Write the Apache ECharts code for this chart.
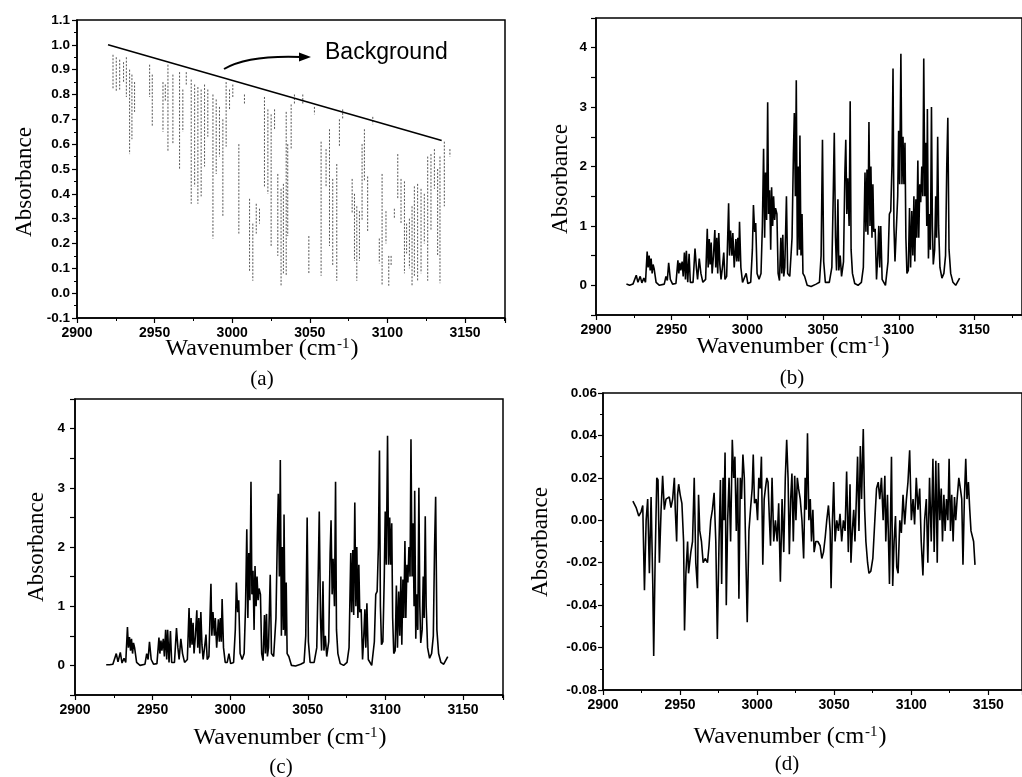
<!DOCTYPE html>
<html><head><meta charset="utf-8">
<script src="https://cdn.jsdelivr.net/npm/echarts@6/dist/echarts.min.js"></script>
<style>html,body{margin:0;padding:0;background:#fff}#c{width:1022px;height:777px}</style>
</head><body><div id="c"></div>
<script>
// ---- data ----
var xTicks = [2900, 2950, 3000, 3050, 3100, 3150];
// (a) background line of the raw spectrum
var aBackground = [[2920, 1.0], [3135, 0.615]];
// (a) absorption dips: [wavenumber, top, bottom]
var aDips = [
[2923.2,0.96,0.82],[2925.3,0.95,0.81],[2927.5,0.94,0.82],[2930.0,0.93,0.85],[2931.8,0.95,0.79],
[2933.9,0.90,0.56],[2935.4,0.88,0.62],[2937.1,0.85,0.73],[2946.8,0.92,0.79],[2948.5,0.88,0.67],
[2955.4,0.85,0.65],[2956.9,0.84,0.77],[2958.6,0.92,0.57],[2961.8,0.88,0.60],[2966.1,0.89,0.50],
[2968.2,0.82,0.65],[2970.4,0.89,0.84],[2973.6,0.86,0.36],[2975.8,0.84,0.43],[2977.9,0.83,0.36],
[2980.0,0.82,0.39],[2982.2,0.84,0.51],[2984.3,0.82,0.63],[2987.6,0.80,0.22],[2989.7,0.78,0.48],
[2991.8,0.75,0.55],[2994.0,0.70,0.31],[2996.1,0.85,0.59],[2998.3,0.82,0.74],[3000.4,0.84,0.79],
[3004.3,0.60,0.24],[3007.9,0.80,0.76],[3011.2,0.38,0.09],[3013.3,0.28,0.05],[3015.5,0.36,0.24],
[3017.6,0.34,0.28],[3020.8,0.79,0.43],[3023.0,0.74,0.40],[3025.1,0.72,0.19],[3027.3,0.74,0.66],
[3029.4,0.48,0.15],[3031.5,0.42,0.03],[3033.0,0.44,0.08],[3034.8,0.73,0.07],[3035.8,0.60,0.23],
[3038.0,0.76,0.58],[3040.1,0.80,0.76],[3045.5,0.80,0.76],[3049.4,0.23,0.08],[3053.0,0.75,0.72],
[3057.3,0.61,0.07],[3060.5,0.58,0.43],[3062.7,0.66,0.19],[3064.8,0.46,0.11],[3067.4,0.52,0.05],
[3069.1,0.70,0.59],[3071.2,0.74,0.70],[3077.3,0.46,0.32],[3078.8,0.40,0.13],[3080.3,0.35,0.05],
[3082.0,0.33,0.13],[3083.7,0.60,0.29],[3085.2,0.66,0.45],[3087.3,0.47,0.25],[3090.6,0.71,0.68],
[3094.8,0.22,0.12],[3096.6,0.48,0.03],[3099.1,0.33,0.20],[3100.9,0.15,0.03],[3102.4,0.15,0.11],
[3104.5,0.34,0.30],[3106.7,0.56,0.38],[3108.8,0.46,0.28],[3111.0,0.45,0.08],[3112.4,0.28,0.16],
[3114.2,0.30,0.10],[3115.9,0.35,0.03],[3117.4,0.43,0.07],[3119.5,0.44,0.05],[3121.7,0.42,0.08],
[3123.8,0.40,0.20],[3126.0,0.55,0.05],[3128.1,0.56,0.25],[3130.3,0.58,0.42],[3132.4,0.50,0.15],
[3133.9,0.55,0.04],[3136.7,0.61,0.35],[3140.3,0.58,0.55]
];
// (b) measured absorbance spectrum
var bSpectrum = [
[2920.1,0.02],[2922.2,0.0],[2924.4,0.02],[2926.6,0.17],[2927.7,0.05],[2929.2,0.15],[2930.3,0.04],[2931.6,0.12],[2932.7,0.05],[2933.8,0.57],[2934.4,0.3],[2935.1,0.5],[2935.8,0.25],[2936.4,0.45],[2937.1,0.2],[2937.7,0.35],[2938.4,0.28],[2939.7,0.05],[2941.9,0.0],[2945.1,0.02],[2946.2,0.15],[2947.1,0.08],[2948.0,0.38],[2949.1,0.1],[2950.6,0.02],[2952.8,0.03],[2954.1,0.42],[2954.7,0.2],[2955.4,0.38],[2956.0,0.25],[2956.9,0.4],[2957.6,0.15],[2958.4,0.55],[2959.1,0.1],[2959.7,0.58],[2960.6,0.05],[2961.5,0.53],[2962.3,0.05],[2964.1,0.05],[2965.4,0.62],[2966.3,0.3],[2967.1,0.1],[2968.2,0.45],[2969.3,0.2],[2970.6,0.05],[2972.4,0.1],[2973.5,0.95],[2974.1,0.3],[2974.8,0.78],[2975.4,0.35],[2976.1,0.72],[2976.7,0.2],[2977.6,0.5],[2978.5,0.93],[2979.1,0.3],[2979.8,0.8],[2980.4,0.2],[2981.1,0.88],[2981.8,0.35],[2982.6,0.1],[2983.5,0.3],[2984.4,0.55],[2985.2,0.1],[2986.3,0.15],[2987.6,1.38],[2988.2,0.5],[2988.9,0.92],[2989.8,0.5],[2990.4,0.88],[2991.3,0.3],[2992.4,0.78],[2993.0,0.4],[2993.7,0.8],[2994.3,0.4],[2994.8,1.07],[2995.7,0.3],[2996.8,0.05],[2998.1,0.05],[2999.2,0.2],[3000.3,0.03],[3002.2,0.05],[3003.3,0.6],[3004.0,1.35],[3004.8,0.9],[3005.5,1.05],[3006.4,0.2],[3007.7,0.1],[3009.0,0.2],[3009.9,1.0],[3010.7,2.3],[3011.4,0.8],[3012.0,1.9],[3012.7,1.1],[3013.4,3.08],[3014.0,1.2],[3014.7,1.6],[3015.4,0.6],[3016.0,1.65],[3016.7,1.0],[3017.3,1.5],[3018.0,1.1],[3018.6,1.3],[3019.5,1.2],[3020.3,0.2],[3021.2,0.08],[3022.1,0.8],[3022.7,0.2],[3023.4,0.85],[3024.0,0.15],[3024.7,0.3],[3025.8,1.5],[3026.6,0.2],[3028.0,0.15],[3029.5,0.8],[3030.4,2.2],[3031.0,2.9],[3031.7,1.5],[3032.3,3.45],[3033.0,0.5],[3033.6,2.0],[3034.3,0.6],[3034.7,2.52],[3035.4,0.5],[3036.1,1.2],[3036.7,0.2],[3037.8,0.15],[3039.5,0.0],[3042.1,-0.02],[3045.4,0.02],[3047.6,0.05],[3048.7,0.5],[3049.6,2.45],[3050.4,0.4],[3051.5,0.05],[3054.1,0.05],[3055.8,0.3],[3056.7,1.5],[3057.4,2.57],[3058.2,0.8],[3058.9,0.25],[3059.8,1.45],[3060.4,0.25],[3061.3,0.5],[3062.2,0.15],[3063.5,0.4],[3064.4,1.9],[3065.0,2.45],[3065.7,1.2],[3066.3,1.8],[3067.2,1.0],[3067.9,3.1],[3068.5,0.6],[3069.4,0.2],[3070.9,0.03],[3073.1,0.0],[3075.3,0.05],[3076.6,0.3],[3077.7,1.9],[3078.3,0.9],[3079.0,1.95],[3079.6,0.85],[3080.3,2.75],[3081.0,1.0],[3081.6,2.0],[3082.3,0.8],[3082.9,1.7],[3083.5,0.9],[3084.4,0.95],[3085.3,0.1],[3086.1,0.5],[3086.8,1.0],[3087.4,0.3],[3088.1,1.0],[3089.0,0.1],[3091.2,0.0],[3092.9,0.4],[3093.8,1.2],[3094.7,1.25],[3095.5,2.0],[3096.2,3.65],[3096.8,1.0],[3097.5,0.4],[3098.4,0.4],[3099.3,1.5],[3099.9,2.6],[3100.6,1.7],[3101.4,3.9],[3102.1,1.7],[3102.8,2.5],[3103.4,1.7],[3104.1,2.4],[3104.7,0.8],[3105.4,0.2],[3106.3,0.25],[3107.1,1.3],[3107.8,0.3],[3108.6,1.25],[3109.3,0.5],[3110.0,1.5],[3110.6,0.4],[3111.3,1.45],[3111.9,0.8],[3112.6,2.1],[3113.2,0.8],[3113.9,1.7],[3114.5,1.4],[3115.2,2.0],[3115.9,1.5],[3116.5,3.82],[3117.2,1.5],[3117.8,2.4],[3118.5,1.0],[3118.9,2.97],[3119.6,0.45],[3120.2,1.2],[3120.9,0.6],[3121.6,3.0],[3122.2,1.0],[3122.8,0.35],[3123.7,0.6],[3124.4,1.5],[3125.0,0.8],[3125.7,2.5],[3126.3,1.0],[3127.2,0.3],[3128.5,0.12],[3129.8,0.2],[3130.9,0.5],[3131.7,2.0],[3132.4,2.82],[3133.2,0.6],[3134.3,0.2],[3135.8,0.05],[3137.6,0.0],[3140.2,0.12]
];
// (c) calculated absorbance spectrum
var cSpectrum = [
[2920.1,0.01],[2922.2,0.01],[2924.4,0.02],[2926.6,0.2],[2927.7,0.06],[2929.2,0.22],[2930.3,0.04],[2931.6,0.12],[2932.7,0.05],[2933.8,0.65],[2934.4,0.3],[2935.1,0.48],[2935.8,0.25],[2936.4,0.45],[2937.1,0.2],[2937.7,0.38],[2938.4,0.3],[2939.7,0.05],[2941.9,0.0],[2945.1,0.02],[2946.2,0.2],[2947.1,0.1],[2948.0,0.4],[2949.1,0.1],[2950.6,0.02],[2952.8,0.03],[2954.1,0.47],[2954.7,0.2],[2955.4,0.42],[2956.0,0.25],[2956.9,0.45],[2957.6,0.15],[2958.4,0.6],[2959.1,0.1],[2959.7,0.6],[2960.6,0.05],[2961.5,0.58],[2962.3,0.05],[2964.1,0.05],[2965.4,0.63],[2966.3,0.3],[2967.1,0.1],[2968.2,0.45],[2969.3,0.2],[2970.6,0.05],[2972.4,0.1],[2973.5,0.97],[2974.1,0.3],[2974.8,0.8],[2975.4,0.35],[2976.1,0.72],[2976.7,0.2],[2977.6,0.5],[2978.5,0.93],[2979.1,0.3],[2979.8,0.8],[2980.4,0.2],[2981.1,0.9],[2981.8,0.35],[2982.6,0.1],[2983.5,0.3],[2984.4,0.52],[2985.2,0.1],[2986.3,0.15],[2987.6,1.38],[2988.2,0.5],[2988.9,0.9],[2989.8,0.5],[2990.4,0.8],[2991.3,0.3],[2992.4,0.78],[2993.0,0.4],[2993.7,0.8],[2994.3,0.4],[2994.8,1.12],[2995.7,0.3],[2996.8,0.05],[2998.1,0.05],[2999.2,0.2],[3000.3,0.03],[3002.2,0.05],[3003.3,0.6],[3004.0,1.4],[3004.8,0.9],[3005.5,1.1],[3006.4,0.2],[3007.7,0.1],[3009.0,0.2],[3009.9,1.0],[3010.7,2.3],[3011.4,0.8],[3012.0,1.9],[3012.7,1.1],[3013.4,3.1],[3014.0,1.2],[3014.7,1.6],[3015.4,0.6],[3016.0,1.68],[3016.7,1.0],[3017.3,1.5],[3018.0,1.1],[3018.6,1.3],[3019.5,1.2],[3020.3,0.2],[3021.2,0.08],[3022.1,0.85],[3022.7,0.2],[3023.4,0.87],[3024.0,0.15],[3024.7,0.3],[3025.8,1.53],[3026.6,0.2],[3028.0,0.15],[3029.5,0.8],[3030.4,2.2],[3031.0,2.9],[3031.7,1.5],[3032.3,3.47],[3033.0,0.5],[3033.6,2.0],[3034.3,0.6],[3034.7,2.55],[3035.4,0.5],[3036.1,1.4],[3036.7,0.2],[3037.8,0.15],[3039.5,0.0],[3042.1,-0.01],[3045.4,0.02],[3047.6,0.05],[3048.7,0.5],[3049.6,2.5],[3050.4,0.4],[3051.5,0.05],[3054.1,0.05],[3055.8,0.3],[3056.7,1.5],[3057.4,2.6],[3058.2,0.8],[3058.9,0.25],[3059.8,1.42],[3060.4,0.25],[3061.3,0.5],[3062.2,0.15],[3063.5,0.4],[3064.4,1.9],[3065.0,2.45],[3065.7,1.2],[3066.3,1.8],[3067.2,1.0],[3067.9,3.1],[3068.5,0.6],[3069.4,0.2],[3070.9,0.03],[3073.1,0.0],[3075.3,0.05],[3076.6,0.3],[3077.7,1.9],[3078.3,0.9],[3079.0,1.95],[3079.6,0.85],[3080.3,2.75],[3081.0,1.0],[3081.6,2.0],[3082.3,0.8],[3082.9,1.7],[3083.5,0.9],[3084.4,0.95],[3085.3,0.1],[3086.1,0.5],[3086.8,0.95],[3087.4,0.3],[3088.1,1.05],[3089.0,0.1],[3091.2,0.0],[3092.9,0.4],[3093.8,1.2],[3094.7,1.25],[3095.5,2.0],[3096.2,3.63],[3096.8,1.0],[3097.5,0.35],[3098.4,0.4],[3099.3,1.5],[3099.9,2.6],[3100.6,1.7],[3101.4,3.88],[3102.1,1.7],[3102.8,2.5],[3103.4,1.7],[3104.1,2.4],[3104.7,0.8],[3105.4,0.2],[3106.3,0.25],[3107.1,1.35],[3107.8,0.3],[3108.6,1.25],[3109.3,0.5],[3110.0,1.5],[3110.6,0.35],[3111.3,1.45],[3111.9,0.8],[3112.6,2.1],[3113.2,0.8],[3113.9,1.7],[3114.5,1.4],[3115.2,2.0],[3115.9,1.5],[3116.5,3.82],[3117.2,1.5],[3117.8,2.4],[3118.5,1.0],[3118.9,2.95],[3119.6,0.45],[3120.2,1.2],[3120.9,0.6],[3121.6,3.0],[3122.2,1.0],[3122.8,0.38],[3123.7,0.6],[3124.4,1.5],[3125.0,0.8],[3125.7,2.52],[3126.3,1.0],[3127.2,0.3],[3128.5,0.12],[3129.8,0.2],[3130.9,0.5],[3131.7,2.0],[3132.4,2.85],[3133.2,0.6],[3134.3,0.2],[3135.8,0.05],[3137.6,0.02],[3140.2,0.15]
];
// (d) residual spectrum
var dResidual = [
[2919.4,0.009],[2921.5,0.006],[2923.2,0.002],[2924.7,0.004],[2925.8,0.007],[2926.9,-0.033],[2928.0,0.0],[2929.0,0.01],[2930.1,-0.025],[2931.2,0.011],[2932.3,-0.03],[2932.9,-0.064],[2933.8,-0.02],[2934.9,0.02],[2935.7,0.019],[2936.6,-0.02],[2937.7,0.005],[2938.7,0.021],[2939.8,0.005],[2940.9,0.01],[2942.0,0.01],[2943.0,0.011],[2944.1,0.006],[2945.2,0.01],[2946.3,0.02],[2946.9,0.005],[2947.8,-0.01],[2948.4,0.012],[2949.1,0.017],[2950.1,0.012],[2951.2,0.008],[2952.3,-0.01],[2952.9,-0.052],[2953.8,-0.025],[2954.9,-0.01],[2955.5,-0.025],[2957.0,-0.015],[2958.1,-0.01],[2959.2,0.02],[2960.2,-0.02],[2961.3,-0.032],[2962.0,0.012],[2962.8,-0.005],[2963.9,-0.01],[2965.0,-0.02],[2966.3,-0.018],[2967.8,-0.02],[2968.8,-0.012],[2969.9,0.0],[2971.0,0.005],[2972.1,0.013],[2973.2,-0.01],[2974.2,-0.056],[2975.3,-0.01],[2976.2,0.019],[2977.0,-0.03],[2977.9,0.02],[2978.5,0.0],[2979.2,0.032],[2980.0,-0.04],[2980.9,0.0],[2981.8,0.02],[2982.8,-0.01],[2983.9,0.038],[2984.8,0.02],[2985.6,0.03],[2986.5,-0.005],[2987.4,0.02],[2988.2,-0.037],[2989.1,0.02],[2989.9,0.01],[2990.8,0.031],[2991.7,0.02],[2992.5,-0.01],[2993.6,-0.048],[2994.7,-0.005],[2995.7,0.005],[2996.8,0.015],[2997.5,0.031],[2998.3,0.008],[2999.4,0.01],[3000.3,0.0],[3001.1,0.02],[3002.0,0.015],[3002.8,0.03],[3003.7,-0.021],[3004.6,0.01],[3005.4,0.015],[3006.3,0.02],[3007.1,0.018],[3008.0,0.0],[3008.7,-0.012],[3009.7,0.02],[3010.8,-0.01],[3011.9,0.0],[3013.0,-0.01],[3014.0,0.008],[3015.1,-0.029],[3016.2,0.01],[3017.3,-0.015],[3018.3,0.02],[3019.2,0.038],[3020.1,0.02],[3020.9,-0.016],[3021.8,0.01],[3022.6,0.022],[3023.5,-0.01],[3024.4,0.021],[3025.2,0.0],[3026.1,0.02],[3026.9,0.015],[3028.0,0.01],[3029.1,0.0],[3030.2,-0.018],[3031.2,0.02],[3031.9,0.005],[3032.7,0.041],[3033.6,0.0],[3034.5,0.01],[3035.3,-0.01],[3036.2,0.005],[3037.0,-0.015],[3038.1,-0.01],[3039.4,-0.01],[3040.9,-0.012],[3042.0,-0.018],[3043.1,-0.015],[3044.2,-0.008],[3045.2,0.0],[3046.3,0.007],[3047.4,-0.005],[3048.0,-0.032],[3048.9,0.0],[3049.7,0.018],[3050.6,-0.01],[3051.7,0.0],[3052.8,-0.005],[3053.8,0.003],[3054.9,-0.01],[3056.0,0.0],[3057.1,-0.005],[3058.1,0.023],[3059.2,-0.015],[3060.3,0.017],[3060.9,-0.02],[3061.8,-0.005],[3062.7,0.005],[3063.5,-0.01],[3064.4,0.01],[3065.2,0.03],[3066.1,-0.005],[3067.0,0.035],[3067.8,0.01],[3068.9,0.043],[3069.8,0.005],[3070.6,-0.01],[3071.7,-0.02],[3072.6,-0.025],[3073.8,-0.024],[3075.1,-0.018],[3076.4,0.0],[3077.5,0.015],[3078.6,0.018],[3079.6,0.01],[3080.7,0.02],[3081.8,0.0],[3082.9,0.021],[3083.5,-0.01],[3084.6,0.012],[3085.9,-0.03],[3087.2,0.03],[3088.0,-0.031],[3088.9,-0.01],[3089.8,0.002],[3090.6,-0.022],[3091.5,-0.025],[3092.6,0.0],[3093.6,-0.006],[3094.7,0.012],[3095.8,-0.002],[3096.9,0.01],[3097.9,0.018],[3099.0,0.033],[3100.1,0.0],[3101.2,0.01],[3102.2,-0.002],[3103.3,0.02],[3104.4,0.005],[3105.5,0.015],[3106.5,-0.01],[3107.6,-0.026],[3108.7,0.0],[3109.8,0.01],[3110.8,-0.02],[3111.9,0.02],[3113.0,-0.01],[3114.1,0.029],[3114.9,-0.015],[3116.0,0.028],[3116.9,-0.02],[3117.7,0.027],[3118.6,0.0],[3119.5,0.015],[3120.3,-0.01],[3121.2,0.012],[3122.0,-0.005],[3122.9,0.01],[3123.8,0.0],[3124.6,0.029],[3125.5,-0.005],[3126.3,0.012],[3127.2,-0.01],[3128.1,0.011],[3128.9,0.0],[3129.8,0.01],[3130.9,0.02],[3131.9,0.015],[3132.8,0.01],[3133.6,-0.021],[3134.5,0.01],[3135.4,0.029],[3136.2,0.01],[3137.1,0.018],[3138.0,0.005],[3138.8,-0.005],[3140.5,-0.01],[3141.4,-0.021]
];

// ---- chart ----
var chart = echarts.init(document.getElementById('c'), null, {renderer: 'canvas'});
var SANS = 'Liberation Sans', SERIF = 'Liberation Serif';

var grids = [
  {left: 77, top: 20, width: 428, height: 298},
  {left: 596, top: 18, width: 430, height: 297},
  {left: 75, top: 399, width: 428, height: 296},
  {left: 603, top: 393, width: 422, height: 297}
];
var xMax = [3175.8, 3181.4, 3175.8, 3171.9];
function intFmt(v) { return Math.abs(v - Math.round(v)) < 1e-6 ? String(Math.round(v)) : ''; }
var yCfg = [
  {min: -0.1, max: 1.1, interval: 0.1, minor: 2, fmt: function (v) { var s = v.toFixed(1); return s === '-0.0' ? '0.0' : s; }, margin: 7},
  {min: -0.5, max: 4.5, interval: 0.5, minor: 0, fmt: intFmt, margin: 9},
  {min: -0.5, max: 4.5, interval: 0.5, minor: 0, fmt: intFmt, margin: 10},
  {min: -0.08, max: 0.06, interval: 0.02, minor: 2, fmt: function (v) { var s = v.toFixed(2); return s === '-0.00' ? '0.00' : s; }, margin: 6}
];

var xAxes = [], yAxes = [];
for (var i = 0; i < 4; i++) {
  xAxes.push({
    gridIndex: i, type: 'value', min: 2900, max: xMax[i], interval: 50,
    axisLine: {show: true, onZero: false, lineStyle: {color: '#000', width: 1.5}},
    axisTick: {show: true, length: 5, lineStyle: {color: '#000', width: 1.2}},
    minorTick: {show: true, splitNumber: 2, length: 3, lineStyle: {color: '#000', width: 1}},
    splitLine: {show: false},
    axisLabel: {color: '#000', fontFamily: SANS, fontWeight: 'bold', fontSize: 14, margin: 8,
      showMaxLabel: false, showMinLabel: true,
      formatter: function (v) { var r = Math.round(v); return (xTicks.indexOf(r) >= 0 && Math.abs(v - r) < 1e-6) ? String(r) : ''; }}
  });
  var y = yCfg[i];
  yAxes.push({
    gridIndex: i, type: 'value', min: y.min, max: y.max, interval: y.interval,
    axisLine: {show: true, onZero: false, lineStyle: {color: '#000', width: 1.5}},
    axisTick: {show: true, length: 5, lineStyle: {color: '#000', width: 1.2}},
    minorTick: {show: y.minor > 0, splitNumber: y.minor || 2, length: 3, lineStyle: {color: '#000', width: 1}},
    splitLine: {show: false},
    axisLabel: {color: '#000', fontFamily: SANS, fontWeight: 'bold', fontSize: 13.5, margin: y.margin,
      showMinLabel: true, showMaxLabel: true, formatter: y.fmt}
  });
}

// build dip segments for (a)
var aDipData = [];
aDips.forEach(function (d) {
  aDipData.push([d[0], d[1]]);
  aDipData.push([d[0], d[2]]);
  aDipData.push([d[0], '-']);
});

function lineSeries(xi, data, style) {
  return {type: 'line', xAxisIndex: xi, yAxisIndex: xi, data: data, showSymbol: false, symbol: 'none',
    connectNulls: false, animation: false, silent: true, lineStyle: style};
}
var series = [
  lineSeries(0, aDipData, {color: '#555', width: 1, type: [2, 1.5]}),
  lineSeries(0, aBackground, {color: '#000', width: 1.6}),
  lineSeries(1, bSpectrum, {color: '#000', width: 1.6}),
  lineSeries(2, cSpectrum, {color: '#000', width: 1.6}),
  lineSeries(3, dResidual, {color: '#000', width: 1.6})
];

function xTitle(cx, cy) {
  return {type: 'text', x: cx, y: cy, silent: true, style: {
    text: '{a|Wavenumber (cm}{s|-1}{a|)}', align: 'center', verticalAlign: 'middle',
    rich: {a: {fontFamily: SERIF, fontSize: 24, fill: '#000', verticalAlign: 'bottom'},
           s: {fontFamily: SERIF, fontSize: 15, fill: '#000', verticalAlign: 'top', padding: [0, 1, 0, 1]}}
  }};
}
function yTitle(cx, cy) {
  return {type: 'text', x: cx, y: cy, rotation: Math.PI / 2, silent: true, style: {
    text: 'Absorbance', align: 'center', verticalAlign: 'middle',
    fontFamily: SERIF, fontSize: 23, fill: '#000'}};
}
function panelLabel(t, cx, cy) {
  return {type: 'text', x: cx, y: cy, silent: true, style: {
    text: t, align: 'center', verticalAlign: 'middle', fontFamily: SERIF, fontSize: 21, fill: '#000'}};
}

var graphics = [
  xTitle(262, 349), panelLabel('(a)', 262, 379), yTitle(25, 182),
  xTitle(793, 347), panelLabel('(b)', 792, 378), yTitle(561, 179),
  xTitle(290, 738), panelLabel('(c)', 281, 767), yTitle(37, 547),
  xTitle(790, 737), panelLabel('(d)', 787, 764), yTitle(541, 542),
  {type: 'text', x: 325, y: 53, silent: true, style: {text: 'Background', align: 'left', verticalAlign: 'middle',
    fontFamily: SANS, fontSize: 23, fill: '#000'}},
  {type: 'bezierCurve', silent: true, shape: {x1: 224, y1: 69, x2: 301, y2: 57, cpx1: 248, cpy1: 55},
    style: {stroke: '#000', lineWidth: 2, fill: null}},
  {type: 'polygon', silent: true, shape: {points: [[299, 52.5], [311, 57], [299, 61.5]]},
    style: {fill: '#000'}}
];

chart.setOption({
  backgroundColor: '#fff',
  animation: false,
  grid: grids.map(function (g) { return Object.assign({show: true, borderColor: '#000', borderWidth: 1.5, backgroundColor: 'transparent', containLabel: false}, g); }),
  xAxis: xAxes,
  yAxis: yAxes,
  series: series,
  graphic: graphics
});
</script>
</body></html>
